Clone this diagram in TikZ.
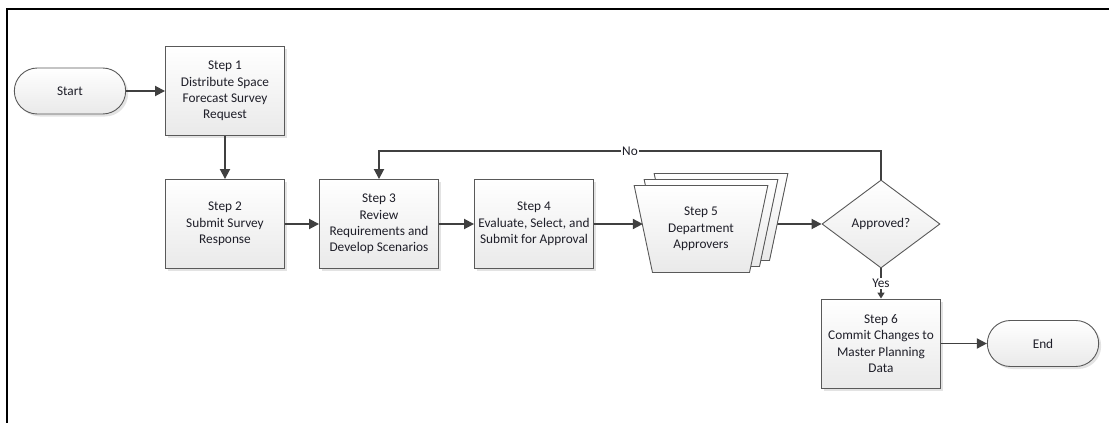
\documentclass[tikz,border=0pt]{standalone}
\usepackage{fontspec}
\setmainfont{Carlito}
\usetikzlibrary{shapes.geometric,shadows,arrows.meta,backgrounds}
\definecolor{edge}{HTML}{595959}
\definecolor{wire}{HTML}{404040}
\definecolor{ink}{HTML}{1E1E28}
\tikzset{
  every node/.style={font=\fontsize{13.3}{16.3}\selectfont, text=ink, align=center},
  boxfill/.style={top color=white, bottom color=gray!17, draw=edge, line width=0.9pt},
  softshadow/.style={drop shadow={opacity=0.22, shadow xshift=2.5pt, shadow yshift=-2.5pt}},
  stepbox/.style={boxfill, softshadow, rectangle, minimum width=119pt, minimum height=89pt, inner sep=2pt},
  terminal/.style={boxfill, softshadow, rounded rectangle, minimum width=118pt, minimum height=46pt},
  decision/.style={boxfill, diamond, minimum width=118pt, minimum height=88pt, inner sep=0pt},
  approvers/.style={boxfill, trapezium, shape border rotate=180, trapezium angle=74,
    trapezium stretches=true, minimum width=134pt, minimum height=87pt, inner sep=0pt,
    double copy shadow={shadow xshift=10pt, shadow yshift=6pt, draw=edge, top color=white, bottom color=gray!17}},
  flow/.style={draw=wire, line width=1.8pt, -{Triangle[length=10pt,width=10pt]}},
  flowsmall/.style={draw=wire, line width=1.6pt, -{Triangle[length=6pt,width=7pt]}},
  tag/.style={fill=white, inner sep=1pt}
}
\usetikzlibrary{shapes.misc}
\begin{document}
\begin{tikzpicture}[x=1pt, y=-1pt]
  \useasboundingbox (0,0) rectangle (1109,423);
  % page frame
  \draw[black, line width=2.6pt] (7,423) -- (7,9) -- (1110,9);

  \node[terminal] (start) at (70,91) {Start};
  \node[stepbox] (s1) at (225,91) {Step 1\\Distribute Space\\Forecast Survey\\Request};
  \node[stepbox] (s2) at (225,224) {Step 2\\Submit Survey\\Response};
  \node[stepbox] (s3) at (379,224) {Step 3\\Review\\Requirements and\\Develop Scenarios};
  \node[stepbox] (s4) at (534,224) {Step 4\\Evaluate, Select, and\\Submit for Approval};
  \node[approvers] (s5) at (701,229) {Step 5\\Department\\Approvers};
  \node[decision] (dia) at (881,224) {Approved?};
  \node[stepbox] (s6) at (881,343.5) {Step 6\\Commit Changes to\\Master Planning\\Data};
  \node[terminal] (end) at (1043,343.5) {End};

  \coordinate (loop) at (881,151);

  \draw[flow] (start) -- (s1);
  \draw[flow] (s1) -- (s2);
  \draw[flow] (s2) -- (s3);
  \draw[flow] (s3) -- (s4);
  \draw[flow] (s4.east) -- (s4.east -| s5.west);
  \begin{scope}[on background layer]
    \draw[flow] (s5.center |- dia.west) -- (dia.west);
  \end{scope}
  \draw[flow] (dia.north) -- (loop) -| (s3.north) node[tag, pos=0.25] {No};
  \draw[flowsmall] (dia.south) -- (s6.north) node[tag, midway] {Yes};
  \draw[flow] (s6) -- (end);
\end{tikzpicture}
\end{document}
